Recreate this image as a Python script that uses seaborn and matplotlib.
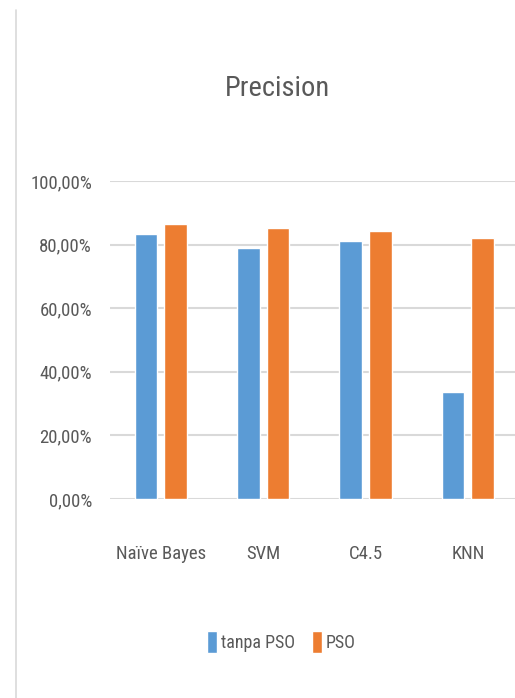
import matplotlib
matplotlib.use("Agg")
import matplotlib.pyplot as plt
from matplotlib import font_manager
from matplotlib.font_manager import FontProperties
from matplotlib.textpath import TextPath
from matplotlib.lines import Line2D
from matplotlib.ticker import FuncFormatter, FixedLocator
import seaborn as sns
import pandas as pd

# ---- data ----
models = ["Naïve Bayes", "SVM", "C4.5", "KNN"]
series_names = ["tanpa PSO", "PSO"]
tanpa_pso = [0.834, 0.790, 0.811, 0.335]
pso = [0.866, 0.853, 0.842, 0.822]
ytick_values = [0.0, 0.2, 0.4, 0.6, 0.8, 1.0]
title = "Precision"

df = pd.DataFrame({
    "model": models * 2,
    "method": [series_names[0]] * len(models) + [series_names[1]] * len(models),
    "value": tanpa_pso + pso,
})

BLUE = "#5B9BD5"
ORANGE = "#ED7D31"
TXT = "#595959"
GRID = "#D9D9D9"

sns.set_theme(style="white")
plt.rcParams["font.family"] = ["DejaVu Sans"]


def text_w(s, fp):
    p = fp.copy()
    p.set_size(10)
    return TextPath((0, 0), s, prop=p).get_extents().width


# pick a proportional condensed sans face if one is installed (reference text is squeezed)
PREF = ("Liberation Sans Narrow", "Noto Sans", "Open Sans", "Roboto", "DejaVu Sans", "Lato", "Inter")
best = None
for f in font_manager.fontManager.ttflist:
    n = f.name
    if f.stretch != "condensed" or f.style != "normal":
        continue
    if f.weight not in (400, "normal", "regular"):
        continue
    if not n.startswith(PREF) or any(k in n for k in ("Mono", "Serif", "CJK", "Display")):
        continue
    try:
        fp = FontProperties(fname=f.fname)
        if text_w("iiiiii", fp) > 0.6 * text_w("mmmmmm", fp):
            continue  # monospaced
        w = text_w("Naïve Bayes", fp) / max(text_w("H", fp), 1e-6)
    except Exception:
        continue
    if best is None or w < best[0]:
        best = (w, f.fname)

BASE = FontProperties(fname=best[1]) if best is not None else FontProperties(family="DejaVu Sans")


def size_for(s, target_px, cap):
    sz = 10 * target_px / (text_w(s, BASE) * 100 / 72)
    return min(sz, cap)


def fp_at(size):
    p = BASE.copy()
    p.set_size(size)
    return p


s_tick = min(size_for("100,00%", 62, 17), size_for("Naïve Bayes", 88, 17))
s_title = size_for(title, 101, 28)
s_leg = size_for("tanpa PSO", 73, 17)

W, H = 515, 698
fig = plt.figure(figsize=(W / 100, H / 100), dpi=100)
fig.patch.set_facecolor("white")

ax_left, ax_right, ax_top, ax_bottom = 109.5, 519.1, 181, 499
ax = fig.add_axes([ax_left / W, 1 - ax_bottom / H, (ax_right - ax_left) / W, (ax_bottom - ax_top) / H])

sns.barplot(data=df, x="model", y="value", hue="method", order=models,
            hue_order=series_names, palette=[BLUE, ORANGE],
            width=0.576, gap=0.236, ax=ax, saturation=1, legend=True)

ax.set_ylim(0, 1.0)
ax.set_xlim(-0.5, len(models) - 0.5)
ax.yaxis.set_major_locator(FixedLocator(ytick_values))
ax.yaxis.set_major_formatter(FuncFormatter(lambda v, p: f"{v*100:.2f}%".replace(".", ",")))
ax.grid(axis="y", color=GRID, linewidth=1.5)
ax.grid(axis="x", visible=False)
ax.set_axisbelow(True)
for sp in ax.spines.values():
    sp.set_visible(False)
ax.set_xlabel("")
ax.set_ylabel("")
ax.tick_params(axis="y", length=0, pad=12.6, labelcolor=TXT)
ax.tick_params(axis="x", length=0, pad=33, labelcolor=TXT)
for lab in ax.get_yticklabels() + ax.get_xticklabels():
    lab.set_fontproperties(fp_at(s_tick))

handles, labels = ax.get_legend_handles_labels()
ax.get_legend().remove()
fig.legend(handles, labels, loc="center", bbox_to_anchor=(281.5 / W, 1 - 642 / H),
           ncol=2, frameon=False, prop=fp_at(s_leg), labelcolor=TXT,
           handlelength=0.55, handleheight=1.5, handletextpad=0.25, columnspacing=0.9)

fig.text(277.5 / W, 1 - 89 / H, title, ha="center", va="center",
         fontproperties=fp_at(s_title), color=TXT)

fig.add_artist(Line2D([16 / W, 16 / W], [0, 1 - 10 / H], transform=fig.transFigure,
                      color=GRID, linewidth=1.2))

fig.savefig("out.png", dpi=100, facecolor="white")
